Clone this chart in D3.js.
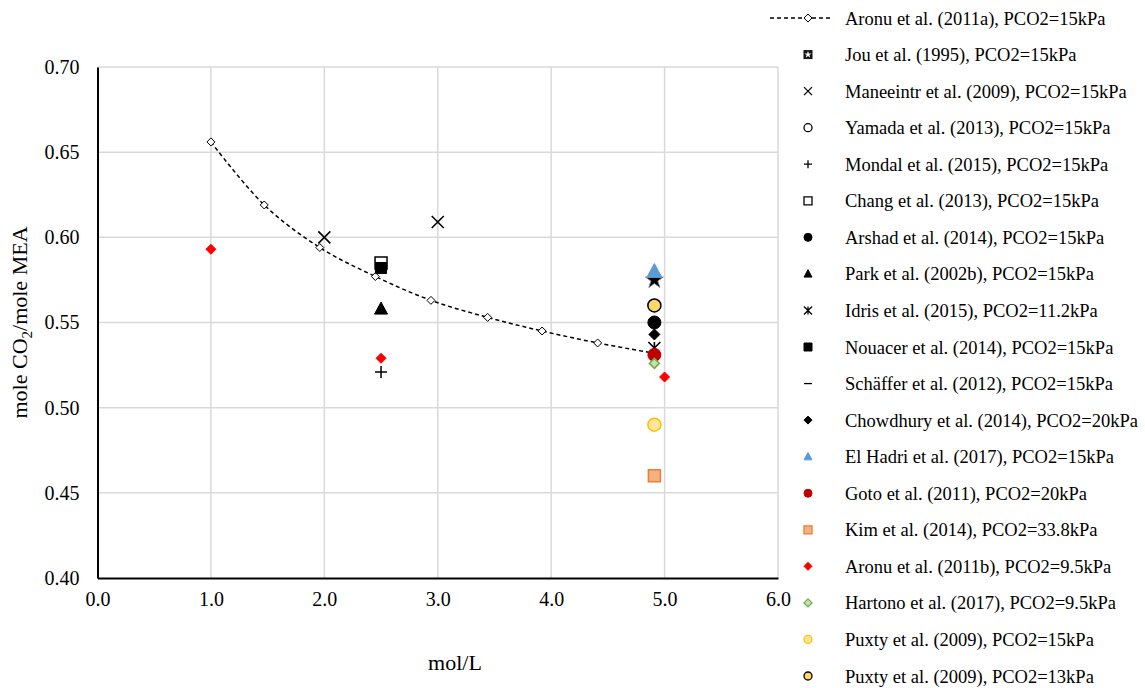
<!doctype html>
<html>
<head>
<meta charset="utf-8">
<script src="https://d3js.org/d3.v7.min.js"></script>
<style>
  body { margin: 0; background: #fff; }
  svg text { font-family: "Liberation Serif", "Times New Roman", serif; fill: #000; }
</style>
</head>
<body>
<div id="chart"></div>
<script>
// ---- data ----
var xTicks = [0, 1, 2, 3, 4, 5, 6];
var yTicks = [0.40, 0.45, 0.50, 0.55, 0.60, 0.65, 0.70];

// Aronu et al. (2011a) - smooth dashed line
var aronuA_x = [1.00, 1.47, 1.96, 2.45, 2.94, 3.44, 3.92, 4.41, 4.90];
var aronuA_y = [0.656, 0.619, 0.594, 0.577, 0.563, 0.553, 0.545, 0.538, 0.532];

var seriesNames = [
  "Aronu et al. (2011a), PCO2=15kPa",
  "Jou et al. (1995), PCO2=15kPa",
  "Maneeintr et al. (2009), PCO2=15kPa",
  "Yamada et al. (2013), PCO2=15kPa",
  "Mondal et al. (2015), PCO2=15kPa",
  "Chang et al. (2013), PCO2=15kPa",
  "Arshad et al. (2014), PCO2=15kPa",
  "Park et al. (2002b), PCO2=15kPa",
  "Idris et al. (2015), PCO2=11.2kPa",
  "Nouacer et al. (2014), PCO2=15kPa",
  "Schäffer et al. (2012), PCO2=15kPa",
  "Chowdhury et al. (2014), PCO2=20kPa",
  "El Hadri et al. (2017), PCO2=15kPa",
  "Goto et al. (2011), PCO2=20kPa",
  "Kim et al. (2014), PCO2=33.8kPa",
  "Aronu et al. (2011b), PCO2=9.5kPa",
  "Hartono et al. (2017), PCO2=9.5kPa",
  "Puxty et al. (2009), PCO2=15kPa",
  "Puxty et al. (2009), PCO2=13kPa"
];

// scatter series values
var jou_x = [4.91],        jou_y = [0.575];
var maneeintr_x = [2.0, 3.0], maneeintr_y = [0.600, 0.609];
var yamada_x = [4.91],     yamada_y = [0.560];
var mondal_x = [2.5],      mondal_y = [0.521];
var chang_x = [2.5],       chang_y = [0.585];
var arshad_x = [4.91],     arshad_y = [0.550];
var park_x = [2.5],        park_y = [0.558];
var idris_x = [4.91],      idris_y = [0.535];
var nouacer_x = [2.5],     nouacer_y = [0.582];
var schaffer_x = [4.91],   schaffer_y = [0.550];
var chowdhury_x = [4.91],  chowdhury_y = [0.543];
var elhadri_x = [4.91],    elhadri_y = [0.580];
var goto_x = [4.91],       goto_y = [0.531];
var kim_x = [4.91],        kim_y = [0.460];
var aronuB_x = [1.0, 2.5, 5.0], aronuB_y = [0.593, 0.529, 0.518];
var hartono_x = [4.91],    hartono_y = [0.526];
var puxty15_x = [4.91],    puxty15_y = [0.490];
var puxty13_x = [4.91],    puxty13_y = [0.560];

// marker styles per series (index matches seriesNames)
var styles = [
  {shape: "diamond", fill: "#fff", stroke: "#000", size: 8, sw: 1},
  {shape: "star", fill: "#000", stroke: "#888", size: 15, sw: 0.8},
  {shape: "x", fill: "none", stroke: "#000", size: 12, sw: 1.6},
  {shape: "circle", fill: "#fff", stroke: "#000", size: 12, sw: 1.5},
  {shape: "plus", fill: "none", stroke: "#000", size: 12, sw: 1.5},
  {shape: "square", fill: "#fff", stroke: "#000", size: 12, sw: 1.5},
  {shape: "circle", fill: "#000", stroke: "#000", size: 13, sw: 1},
  {shape: "triangle", fill: "#000", stroke: "#000", size: 13, sw: 1},
  {shape: "asterisk", fill: "none", stroke: "#000", size: 12, sw: 1.6},
  {shape: "square", fill: "#000", stroke: "#000", size: 11, sw: 1},
  {shape: "dash", fill: "none", stroke: "#000", size: 11, sw: 2},
  {shape: "diamond", fill: "#000", stroke: "#000", size: 11, sw: 1},
  {shape: "triangle", fill: "#5B9BD5", stroke: "#5B9BD5", size: 15, sw: 1},
  {shape: "circle", fill: "#C00000", stroke: "#C00000", size: 13, sw: 1},
  {shape: "square", fill: "#F4B183", stroke: "#ED7D31", size: 12, sw: 1.5},
  {shape: "diamond", fill: "#FF0000", stroke: "#FF0000", size: 10, sw: 1},
  {shape: "diamond", fill: "#C5E0B4", stroke: "#70AD47", size: 10, sw: 1.5},
  {shape: "circle", fill: "#FFE699", stroke: "#FFC000", size: 13, sw: 1.5},
  {shape: "circle", fill: "#FFD966", stroke: "#000", size: 13, sw: 1.5}
];

var scatter = [
  [jou_x, jou_y, 1], [maneeintr_x, maneeintr_y, 2], [yamada_x, yamada_y, 3],
  [mondal_x, mondal_y, 4], [chang_x, chang_y, 5], [arshad_x, arshad_y, 6],
  [park_x, park_y, 7], [idris_x, idris_y, 8], [nouacer_x, nouacer_y, 9],
  [schaffer_x, schaffer_y, 10], [chowdhury_x, chowdhury_y, 11],
  [elhadri_x, elhadri_y, 12], [goto_x, goto_y, 13], [kim_x, kim_y, 14],
  [aronuB_x, aronuB_y, 15], [hartono_x, hartono_y, 16],
  [puxty15_x, puxty15_y, 17], [puxty13_x, puxty13_y, 18]
];

// ---- layout ----
var width = 1145, height = 688;
var plotLeft = 97.5, plotRight = 778, plotTop = 67, plotBottom = 578;

var x = d3.scaleLinear().domain([0, 6]).range([plotLeft, plotRight]);
var y = d3.scaleLinear().domain([0.40, 0.70]).range([plotBottom, plotTop]);

var svg = d3.select("#chart").append("svg")
  .attr("width", width).attr("height", height);

// marker path builder
function markerPath(shape, s) {
  var h = s / 2;
  switch (shape) {
    case "circle": return d3.symbol(d3.symbolCircle, Math.PI * h * h)();
    case "square": return "M" + -h + "," + -h + "H" + h + "V" + h + "H" + -h + "Z";
    case "diamond": return "M0," + -h + "L" + h + ",0L0," + h + "L" + -h + ",0Z";
    case "triangle": return "M0," + (-h * 1.05) + "L" + h + "," + (h * 0.8) + "L" + -h + "," + (h * 0.8) + "Z";
    case "star": return d3.symbol(d3.symbolStar, s * s * 0.45)();
    case "x": return "M" + -h + "," + -h + "L" + h + "," + h + "M" + h + "," + -h + "L" + -h + "," + h;
    case "plus": return "M" + -h + ",0H" + h + "M0," + -h + "V" + h;
    case "asterisk": return "M" + -h + "," + -h + "L" + h + "," + h + "M" + h + "," + -h + "L" + -h + "," + h + "M0," + -h + "V" + h;
    case "dash": return "M" + -h + ",0H" + h;
  }
}

// gridlines
svg.append("g").selectAll("line").data(xTicks.slice(1)).enter().append("line")
  .attr("x1", function(d) { return x(d); }).attr("x2", function(d) { return x(d); })
  .attr("y1", plotTop).attr("y2", plotBottom)
  .attr("stroke", "#D9D9D9").attr("stroke-width", 1.5);
svg.append("g").selectAll("line").data(yTicks.slice(1)).enter().append("line")
  .attr("y1", function(d) { return y(d); }).attr("y2", function(d) { return y(d); })
  .attr("x1", plotLeft).attr("x2", plotRight)
  .attr("stroke", "#D9D9D9").attr("stroke-width", 1.5);

// axes
var xAxis = svg.append("g").attr("transform", "translate(0," + plotBottom + ")")
  .call(d3.axisBottom(x).tickValues(xTicks).tickSize(0).tickPadding(14).tickFormat(d3.format(".1f")));
var yAxis = svg.append("g").attr("transform", "translate(" + plotLeft + ",0)")
  .call(d3.axisLeft(y).tickValues(yTicks).tickSize(0).tickPadding(18).tickFormat(d3.format(".2f")));
[xAxis, yAxis].forEach(function(a) {
  a.select(".domain").attr("stroke", "#000").attr("stroke-width", 2);
  a.selectAll("text").attr("font-size", 20)
    .attr("font-family", "'Liberation Serif', 'Times New Roman', serif");
});

// axis titles
svg.append("text").attr("x", 455).attr("y", 670).attr("text-anchor", "middle")
  .attr("font-size", 22).text("mol/L");
var yt = svg.append("text").attr("transform", "translate(27," + ((plotTop + plotBottom) / 2) + ") rotate(-90)")
  .attr("text-anchor", "middle").attr("font-size", 22);
yt.append("tspan").text("mole CO");
yt.append("tspan").attr("font-size", 15).attr("dy", 5).text("2");
yt.append("tspan").attr("dy", -5).text("/mole MEA");

// Aronu 2011a line
var line = d3.line().curve(d3.curveCatmullRom.alpha(0.5))
  .x(function(d) { return x(d[0]); }).y(function(d) { return y(d[1]); });
var aronuPts = aronuA_x.map(function(v, i) { return [v, aronuA_y[i]]; });
svg.append("path").datum(aronuPts).attr("d", line)
  .attr("fill", "none").attr("stroke", "#000").attr("stroke-width", 1.5)
  .attr("stroke-dasharray", "4,3");

function drawMarkers(pts, st) {
  svg.append("g").selectAll("path").data(pts).enter().append("path")
    .attr("transform", function(d) { return "translate(" + x(d[0]) + "," + y(d[1]) + ")"; })
    .attr("d", markerPath(st.shape, st.size))
    .attr("fill", st.fill).attr("stroke", st.stroke).attr("stroke-width", st.sw);
}
drawMarkers(aronuPts, styles[0]);

scatter.forEach(function(s) {
  var pts = s[0].map(function(v, i) { return [v, s[1][i]]; });
  drawMarkers(pts, styles[s[2]]);
});

// legend
var legend = svg.append("g");
var rowY = d3.scaleLinear().domain([0, seriesNames.length - 1]).range([18, 676]);
seriesNames.forEach(function(name, i) {
  var g = legend.append("g").attr("transform", "translate(808," + rowY(i) + ")");
  var st = styles[i];
  if (i === 0) {
    g.append("line").attr("x1", -38).attr("x2", 25).attr("y1", 0).attr("y2", 0)
      .attr("stroke", "#000").attr("stroke-width", 1.3).attr("stroke-dasharray", "4,3");
  }
  if (st.shape === "star") {
    // legend icon: small dark square with a light star
    g.append("path").attr("d", markerPath("square", 9)).attr("fill", "#111");
    g.append("path").attr("d", markerPath("star", 6)).attr("fill", "#fff");
  } else {
    var ls = Math.min(st.size, 8);
    g.append("path").attr("d", markerPath(st.shape, ls))
      .attr("fill", st.fill).attr("stroke", st.stroke).attr("stroke-width", Math.min(st.sw, 1.3));
  }
  g.append("text").attr("x", 37).attr("y", 6.5).attr("font-size", 18.5).text(name);
});
</script>
</body>
</html>
